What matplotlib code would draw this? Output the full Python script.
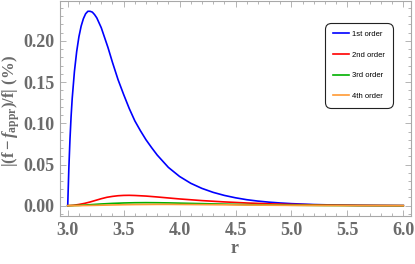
"""Relative error of the approximations of f versus r."""

import matplotlib
matplotlib.use("Agg")
from matplotlib import pyplot as plt
from matplotlib.ticker import MultipleLocator, FormatStrFormatter

r_first = [3.00, 3.01, 3.02, 3.03, 3.04, 3.06, 3.08, 3.10, 3.12, 3.14, 3.16, 3.18,
           3.20, 3.22, 3.24, 3.26, 3.28, 3.30, 3.33, 3.36, 3.40, 3.45, 3.50, 3.55,
           3.60, 3.65, 3.70, 3.75, 3.80, 3.90, 4.00, 4.10, 4.20, 4.30, 4.40, 4.50,
           4.60, 4.70, 4.80, 4.90, 5.00, 5.20, 5.40, 5.60, 5.80, 6.00]
err_first = [0.0, 0.045, 0.080, 0.108, 0.130, 0.163, 0.187, 0.205, 0.218, 0.227, 0.233, 0.236,
             0.236, 0.235, 0.232, 0.228, 0.222, 0.216, 0.204, 0.192, 0.174, 0.153, 0.135, 0.118,
             0.103, 0.091, 0.080, 0.0705, 0.0615, 0.0465, 0.0355, 0.0272, 0.0210, 0.0162, 0.0125,
             0.0096, 0.0073, 0.0056, 0.0043, 0.0033, 0.0025, 0.0014, 0.0008, 0.0004, 0.0002, 0.0001]

r_second = [3.0, 3.05, 3.1, 3.15, 3.2, 3.25, 3.3, 3.35, 3.4, 3.45, 3.5, 3.55, 3.6, 3.7,
            3.8, 3.9, 4.0, 4.2, 4.4, 4.6, 4.8, 5.0, 5.3, 5.6, 6.0]
err_second = [0.0, 0.0005, 0.0015, 0.0028, 0.0045, 0.0065, 0.0085, 0.0102, 0.0113, 0.0121,
              0.0125, 0.0126, 0.0124, 0.0117, 0.0106, 0.0094, 0.0082, 0.0062, 0.0046, 0.0033,
              0.0023, 0.0015, 0.0008, 0.0004, 0.0001]

r_high = [3.0, 3.1, 3.2, 3.3, 3.4, 3.5, 3.6, 3.7, 3.8, 3.9, 4.0, 4.2, 4.4, 4.6, 4.8,
          5.0, 5.3, 5.6, 6.0]
err_third = [0.0, 0.0004, 0.0012, 0.0021, 0.0028, 0.0033, 0.0036, 0.0037, 0.0036, 0.0034,
             0.0031, 0.0025, 0.0019, 0.0013, 0.0009, 0.0006, 0.0003, 0.00015, 0.00005]
err_fourth = [0.0, 0.0001, 0.0003, 0.0006, 0.0009, 0.0012, 0.0014, 0.0015, 0.0016, 0.0016,
              0.0015, 0.0013, 0.0011, 0.0008, 0.0006, 0.0004, 0.0002, 0.0001, 0.00003]

GRAY = "#6b6b6b"
FRAME = "#a8a8a8"

plt.rcParams["mathtext.fontset"] = "custom"
plt.rcParams["mathtext.rm"] = "Liberation Serif:bold"
plt.rcParams["mathtext.bf"] = "Liberation Serif:bold"
plt.rcParams["mathtext.it"] = "Liberation Serif:italic:bold"

figure = plt.figure(figsize=(4.15, 2.64), dpi=100)
axis = figure.add_axes([60 / 415, 48 / 264, 351 / 415, 215 / 264])

axis.plot(r_first, err_first, color="#0000ff", linewidth=1.2, label="1st order")
axis.plot(r_second, err_second, color="#ff0000", linewidth=1.2, label="2nd order")
axis.plot(r_high, err_third, color="#00b000", linewidth=1.2, label="3rd order")
axis.plot(r_high, err_fourth, color="#ff9933", linewidth=1.2, label="4th order")

axis.set_xlim(2.931, 6.069)
axis.set_ylim(-0.0125, 0.2485)

axis.xaxis.set_major_locator(MultipleLocator(0.5))
axis.xaxis.set_minor_locator(MultipleLocator(0.1))
axis.yaxis.set_major_locator(MultipleLocator(0.05))
axis.yaxis.set_minor_locator(MultipleLocator(0.01))
axis.xaxis.set_major_formatter(FormatStrFormatter("%.1f"))
axis.yaxis.set_major_formatter(FormatStrFormatter("%.2f"))

axis.tick_params(which="both", direction="in", top=True, right=True, color=FRAME,
                 width=0.6, labelcolor=GRAY)
axis.tick_params(which="major", length=4, pad=4)
axis.tick_params(which="minor", length=2)
for label in axis.get_xticklabels() + axis.get_yticklabels():
    label.set_fontfamily("Liberation Serif")
    label.set_fontweight("bold")
    label.set_fontsize(13)

for spine in axis.spines.values():
    spine.set_color(FRAME)
    spine.set_linewidth(0.8)

axis.set_xlabel("r", family="Liberation Serif", fontweight="bold", fontsize=13, color=GRAY)
axis.xaxis.set_label_coords(175 / 351, -24 / 215)
axis.set_ylabel(r"$|(\mathrm{f}-f_{\mathrm{appr}})/\mathrm{f}|\ (\%)$", fontsize=12,
                color=GRAY)
axis.yaxis.set_label_coords(-38 / 351, 0.49)

legend = axis.legend(
    loc="upper left",
    bbox_to_anchor=(325 / 415, 1 - 23 / 264),
    bbox_transform=figure.transFigure,
    prop={"family": "Liberation Sans", "size": 5.5},
    handlelength=2.1,
    handletextpad=0.45,
    labelspacing=1.75,
    borderpad=1.0,
    borderaxespad=0.0,
    fancybox=True,
    framealpha=1.0,
)
legend.get_frame().set_edgecolor("#222222")
legend.get_frame().set_linewidth(0.8)
legend.get_frame().set_boxstyle("round,pad=0,rounding_size=0.8")

figure.savefig("out.png", dpi=100)
